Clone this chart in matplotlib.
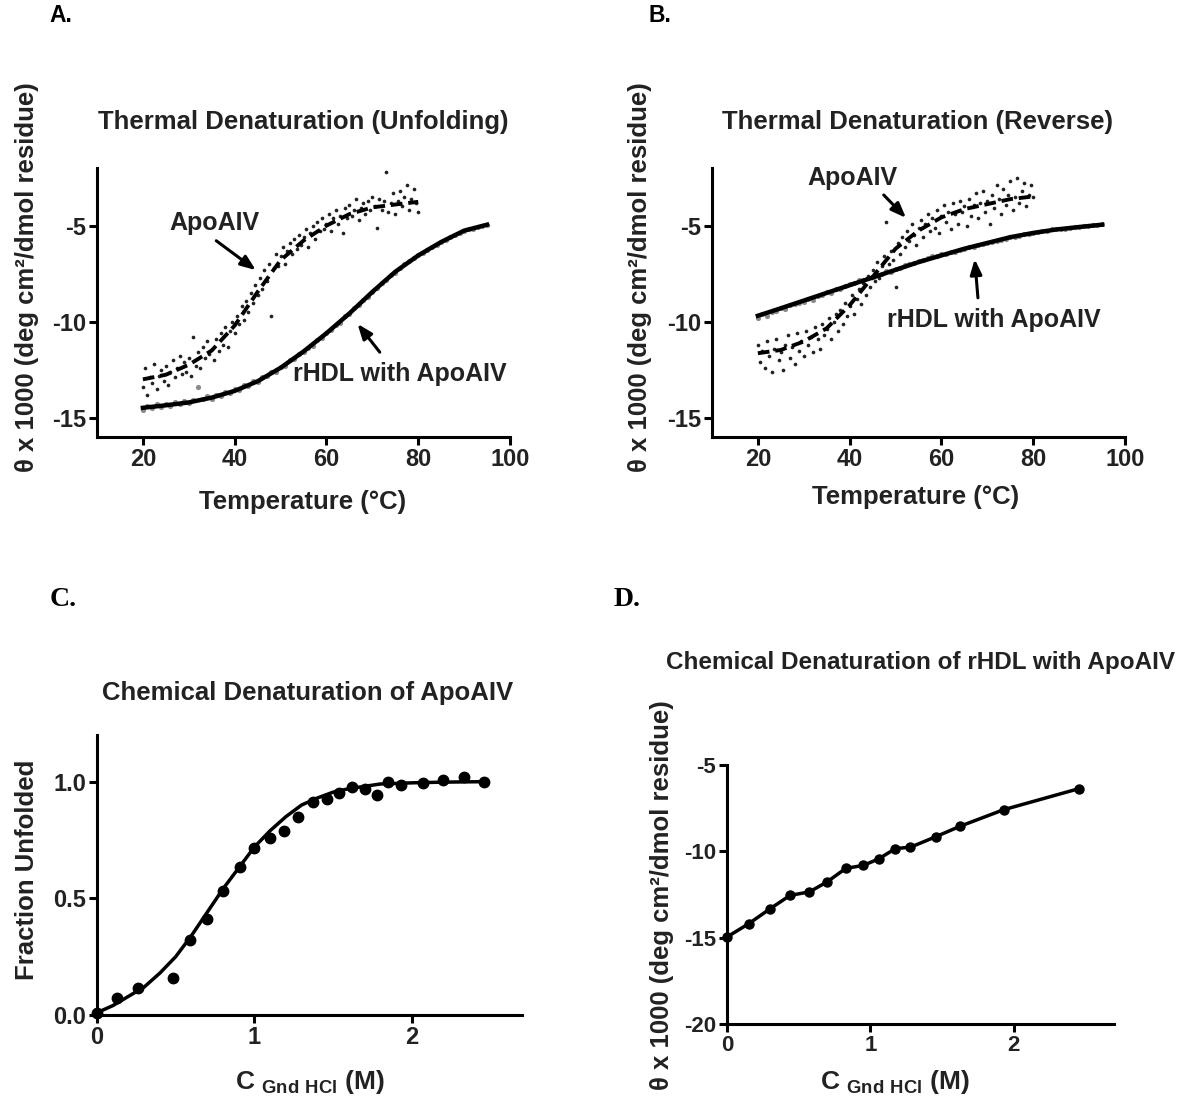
import numpy as np
import matplotlib
matplotlib.use("Agg")
import matplotlib.pyplot as plt

plt.rcParams["font.family"] = ["Liberation Sans", "DejaVu Sans"]
plt.rcParams["font.weight"] = "bold"
plt.rcParams["axes.unicode_minus"] = False
plt.rcParams["mathtext.fontset"] = "custom"
plt.rcParams["mathtext.rm"] = "Liberation Sans:bold"
plt.rcParams["mathtext.bf"] = "Liberation Sans:bold"

# ---- panel A: thermal unfolding ----
a_apo_x = np.arange(20, 80.5, 0.5)
a_apo_y = [-13.4, -12.4, -13.8, -12.9, -13.2, -12.2, -13.5, -12.8, -12.5, -13.1,
           -12.3, -13.3, -12.6, -12.0, -12.9, -12.4, -11.8, -12.7, -12.1, -12.6,
           -11.9, -12.8, -10.8, -12.3, -11.6, -12.4, -11.3, -11.9, -11.0, -11.7,
           -11.4, -12.0, -10.9, -11.5, -10.6, -11.2, -10.3, -11.3, -10.5, -10.0,
           -10.6, -9.7, -10.1, -9.2, -9.9, -8.9, -9.5, -8.5, -9.0, -8.1,
           -8.6, -7.7, -8.3, -7.3, -7.9, -7.0, -9.7, -7.2, -6.5, -7.1,
           -6.6, -6.1, -7.0, -6.3, -5.9, -6.5, -5.7, -6.2, -5.5, -6.0,
           -5.6, -5.2, -6.1, -5.4, -5.0, -5.7, -4.8, -5.3, -4.6, -5.2,
           -4.9, -4.4, -5.3, -4.6, -4.2, -4.9, -4.5, -5.4, -4.1, -4.6,
           -3.9, -4.5, -4.2, -3.6, -4.7, -4.1, -3.8, -4.4, -3.7, -4.2,
           -3.5, -4.0, -5.1, -3.6, -4.2, -3.7, -2.2, -4.3, -3.8, -3.3,
           -4.4, -3.7, -3.2, -4.0, -3.5, -2.9, -4.2, -3.6, -3.1, -3.8,
           -4.3]
a_apo_fit_x = [20, 25, 30, 35, 40, 45, 50, 55, 60, 65, 70, 75, 80]
a_apo_fit_y = [-13.0, -12.76, -12.24, -11.5, -10.2, -8.45, -6.8, -5.78, -5.0, -4.4, -4.05, -3.9, -3.76]

a_hdl_x = np.arange(20, 96, 1)
a_hdl_y = [-14.6, -14.4, -14.5, -14.3, -14.45, -14.3, -14.4, -14.2, -14.3, -14.15,
           -14.25, -14.05, -13.4, -14.0, -13.85, -14.0, -13.8, -13.85, -13.65, -13.7,
           -13.5, -13.55, -13.3, -13.35, -13.1, -13.15, -12.9, -12.85, -12.6, -12.6,
           -12.35, -12.3, -12.0, -11.95, -11.7, -11.6, -11.35, -11.25, -10.95, -10.85,
           -10.6, -10.45, -10.15, -10.05, -9.7, -9.6, -9.3, -9.15, -8.85, -8.7,
           -8.45, -8.25, -8.0, -7.85, -7.55, -7.45, -7.2, -7.0, -6.85, -6.7,
           -6.55, -6.4, -6.25, -6.1, -6.0, -5.85, -5.75, -5.6, -5.5, -5.4,
           -5.3, -5.2, -5.15, -5.05, -5.0, -4.95]
a_hdl_fit_x = [20, 25, 30, 35, 40, 45, 50, 55, 60, 65, 70, 75, 80, 85, 90, 95]
a_hdl_fit_y = [-14.48, -14.35, -14.2, -13.95, -13.6, -13.1, -12.4, -11.55, -10.6, -9.57,
               -8.45, -7.4, -6.55, -5.85, -5.26, -4.95]

# ---- panel B: thermal reverse ----
b_apo_x = np.arange(20, 80.5, 0.5)
b_apo_y = [-11.2, -12.1, -11.5, -12.4, -11.0, -11.8, -12.6, -11.4, -10.9, -12.0,
           -11.6, -12.5, -11.2, -10.7, -11.9, -11.3, -12.2, -10.6, -11.5, -11.0,
           -11.8, -10.5, -11.2, -10.8, -11.6, -10.3, -10.9, -11.4, -10.1, -10.7,
           -10.4, -9.8, -10.9, -10.0, -9.6, -10.5, -9.4, -10.1, -9.0, -9.7,
           -9.2, -8.6, -9.6, -8.8, -8.3, -9.1, -8.0, -8.6, -7.6, -8.2,
           -7.3, -7.9, -6.9, -7.7, -7.1, -6.6, -4.8, -7.0, -6.3, -6.8,
           -8.2, -5.9, -6.5, -5.6, -6.1, -5.3, -5.8, -4.9, -5.5, -6.0,
           -5.1, -4.7, -5.6, -4.9, -4.4, -5.3, -4.6, -5.1, -4.2, -5.4,
           -4.5, -3.9, -4.8, -4.3, -5.2, -3.8, -4.4, -4.9, -3.7, -4.3,
           -4.0, -5.0, -3.6, -4.5, -3.9, -3.3, -4.6, -3.8, -3.2, -4.3,
           -3.7, -4.9, -3.4, -4.1, -2.9, -3.6, -4.4, -3.1, -3.9, -3.4,
           -2.7, -4.2, -3.5, -2.5, -3.8, -3.2, -2.8, -4.0, -3.4, -2.9,
           -3.5]
b_apo_fit_x = [20, 25, 30, 35, 40, 45, 50, 55, 60, 65, 70, 75, 80]
b_apo_fit_y = [-11.64, -11.47, -11.03, -10.34, -9.14, -7.67, -6.2, -5.26, -4.57, -4.14, -3.88, -3.62, -3.48]

b_hdl_x = np.arange(20, 96, 1)
b_hdl_y = [-9.8, -9.6, -9.7, -9.5, -9.45, -9.3, -9.35, -9.15, -9.1, -9.0,
           -8.95, -8.8, -8.85, -8.65, -8.6, -8.45, -8.5, -8.3, -8.3, -8.15,
           -8.05, -8.0, -7.85, -7.85, -7.7, -7.65, -7.55, -7.5, -7.35, -7.4,
           -7.25, -7.2, -7.05, -7.0, -6.95, -6.85, -6.8, -6.7, -6.6, -6.6,
           -6.5, -6.45, -6.35, -6.35, -6.25, -6.2, -6.1, -6.1, -6.0, -5.95,
           -5.9, -5.85, -5.8, -5.75, -5.7, -5.6, -5.6, -5.55, -5.45, -5.45,
           -5.4, -5.35, -5.3, -5.3, -5.2, -5.2, -5.15, -5.15, -5.1, -5.05,
           -5.05, -5.0, -5.0, -4.95, -4.95, -4.9]
b_hdl_fit_x = [20, 25, 30, 35, 40, 45, 50, 55, 60, 65, 70, 75, 80, 85, 90, 95]
b_hdl_fit_y = [-9.69, -9.3, -8.9, -8.5, -8.1, -7.7, -7.3, -6.9, -6.55, -6.2,
               -5.9, -5.6, -5.38, -5.2, -5.07, -4.95]

# ---- panel C: chemical denaturation of ApoAIV ----
c_x = [0.0, 0.13, 0.26, 0.48, 0.59, 0.70, 0.80, 0.91, 1.0, 1.10, 1.19, 1.28, 1.37,
       1.46, 1.54, 1.62, 1.70, 1.78, 1.85, 1.93, 2.07, 2.20, 2.33, 2.46]
c_y = [0.01, 0.071, 0.114, 0.157, 0.32, 0.41, 0.53, 0.636, 0.714, 0.757, 0.79, 0.85, 0.914,
       0.924, 0.95, 0.979, 0.969, 0.943, 1.0, 0.986, 0.993, 1.007, 1.019, 1.0]
c_fit_x = [0, 0.1, 0.2, 0.3, 0.4, 0.5, 0.6, 0.7, 0.8, 0.9, 1.0, 1.1, 1.2, 1.3, 1.4,
           1.5, 1.6, 1.7, 1.8, 2.0, 2.2, 2.46]
c_fit_y = [0.01, 0.04, 0.08, 0.12, 0.18, 0.25, 0.34, 0.44, 0.54, 0.63, 0.72, 0.79, 0.85,
           0.90, 0.93, 0.955, 0.97, 0.98, 0.99, 0.995, 0.998, 1.0]

# ---- panel D: chemical denaturation of rHDL ----
d_x = [0, 0.15, 0.30, 0.44, 0.575, 0.70, 0.83, 0.95, 1.06, 1.175, 1.28, 1.455, 1.625, 1.93, 2.455]
d_y = [-14.96, -14.2, -13.33, -12.55, -12.35, -11.76, -10.98, -10.82, -10.43, -9.84, -9.76,
       -9.16, -8.55, -7.59, -6.37]

W, H = 1185, 1099
INK = "#222222"
fig = plt.figure(figsize=(W / 100, H / 100), dpi=100)


def box(l, r, t, b):
    return [l / W, 1 - b / H, (r - l) / W, (b - t) / H]


def ftext(x, y, s, **kw):
    kw.setdefault("color", INK)
    fig.text(x / W, 1 - y / H, s, ha="center", va="center", **kw)


def style(ax, size=17):
    for s in ["top", "right"]:
        ax.spines[s].set_visible(False)
    for s in ["left", "bottom"]:
        ax.spines[s].set_linewidth(2.2)
    ax.tick_params(width=2.2, length=6, labelsize=size, pad=2, labelcolor=INK)
    for lab in ax.get_xticklabels() + ax.get_yticklabels():
        lab.set_fontweight("bold")


arrow = dict(arrowstyle="-|>,head_length=0.9,head_width=0.35", color="black", lw=2.2)

axA = fig.add_axes(box(97, 510, 168, 437))
axA.scatter(a_hdl_x, a_hdl_y, s=14, color="#8a8a8a", lw=0)
axA.plot(a_hdl_fit_x, a_hdl_fit_y, color="black", lw=3.2)
axA.scatter(a_apo_x, a_apo_y, s=7, color="#222222", lw=0)
axA.plot(a_apo_fit_x, a_apo_fit_y, color="black", lw=2.8, ls=(0, (3, 1.5)))
axA.set_xlim(10, 100)
axA.set_ylim(-16, -2)
axA.set_xticks([20, 40, 60, 80, 100])
axA.set_yticks([-15, -10, -5])
axA.annotate("", xy=(45.1, -7.4), xytext=(35.5, -5.7), arrowprops=arrow)
axA.text(35.5, -4.85, "ApoAIV", ha="center", va="center", fontsize=18, fontweight="bold", color=INK)
axA.annotate("", xy=(66.4, -10.0), xytext=(72.0, -11.7), arrowprops=arrow)
axA.text(76, -12.7, "rHDL with ApoAIV", ha="center", va="center", fontsize=18, fontweight="bold", color=INK)
style(axA)

axB = fig.add_axes(box(712, 1125, 168, 437))
axB.scatter(b_hdl_x, b_hdl_y, s=14, color="#8a8a8a", lw=0)
axB.plot(b_hdl_fit_x, b_hdl_fit_y, color="black", lw=3.2)
axB.scatter(b_apo_x, b_apo_y, s=7, color="#222222", lw=0)
axB.plot(b_apo_fit_x, b_apo_fit_y, color="black", lw=2.8, ls=(0, (3, 1.5)))
axB.set_xlim(10, 100)
axB.set_ylim(-16, -2)
axB.set_xticks([20, 40, 60, 80, 100])
axB.set_yticks([-15, -10, -5])
axB.annotate("", xy=(52.7, -4.7), xytext=(47.0, -3.3), arrowprops=arrow)
axB.text(40.5, -2.5, "ApoAIV", ha="center", va="center", fontsize=18, fontweight="bold", color=INK)
axB.annotate("", xy=(67.2, -6.6), xytext=(68.0, -8.9), arrowprops=arrow)
axB.text(71.5, -9.9, "rHDL with ApoAIV", ha="center", va="center", fontsize=18, fontweight="bold", color=INK)
style(axB)

axC = fig.add_axes(box(97, 522, 735, 1015))
axC.plot(c_fit_x, c_fit_y, color="black", lw=2.5)
axC.plot(c_x, c_y, "o", color="black", ms=7.5)
axC.set_xlim(0, 2.7)
axC.set_ylim(0, 1.2)
axC.set_xticks([0, 1, 2])
axC.set_yticks([0.0, 0.5, 1.0])
axC.set_yticklabels(["0.0", "0.5", "1.0"])
axC.set_xticklabels(["0", "1", "2"])
style(axC)

axD = fig.add_axes(box(727, 1114, 765, 1024))
axD.plot(d_x, d_y, "o-", color="black", lw=2.5, ms=6.5)
axD.set_xlim(0, 2.7)
axD.set_ylim(-20, -5)
axD.set_xticks([0, 1, 2])
axD.set_yticks([-20, -15, -10, -5])
style(axD, size=16)
for ax in (axC, axD):
    for ln in ax.lines:
        ln.set_clip_on(False)

ylab = "\u03b8 x 1000 (deg cm\u00b2/dmol residue)"
ftext(303, 122, "Thermal Denaturation (Unfolding)", fontsize=18.5)
ftext(917, 122, "Thermal Denaturation (Reverse)", fontsize=18.5)
ftext(308, 693, "Chemical Denaturation of ApoAIV", fontsize=18.5)
ftext(921, 663, "Chemical Denaturation of rHDL with ApoAIV", fontsize=17.5)
ftext(303, 502, "Temperature (\u00b0C)", fontsize=18.5)
ftext(916, 497, "Temperature (\u00b0C)", fontsize=18.5)
ftext(310, 1082, r"C $_{\rm Gnd\ HCl}$ (M)", fontsize=19)
ftext(895, 1082, r"C $_{\rm Gnd\ HCl}$ (M)", fontsize=19)
ftext(27, 277, ylab, fontsize=18.5, rotation=90)
ftext(640, 277, ylab, fontsize=18.5, rotation=90)
ftext(27, 870, "Fraction Unfolded", fontsize=18.5, rotation=90)
ftext(662, 895, ylab, fontsize=18.5, rotation=90)
ftext(61, 16, "A.", fontsize=16.5, fontweight="bold", color="black")
ftext(660, 16, "B.", fontsize=16.5, fontweight="bold", color="black")
ftext(63, 600, "C.", fontsize=20, fontweight="bold", family="Liberation Serif", color="black")
ftext(627, 600, "D.", fontsize=20, fontweight="bold", family="Liberation Serif", color="black")

fig.savefig("out.png", dpi=100)
